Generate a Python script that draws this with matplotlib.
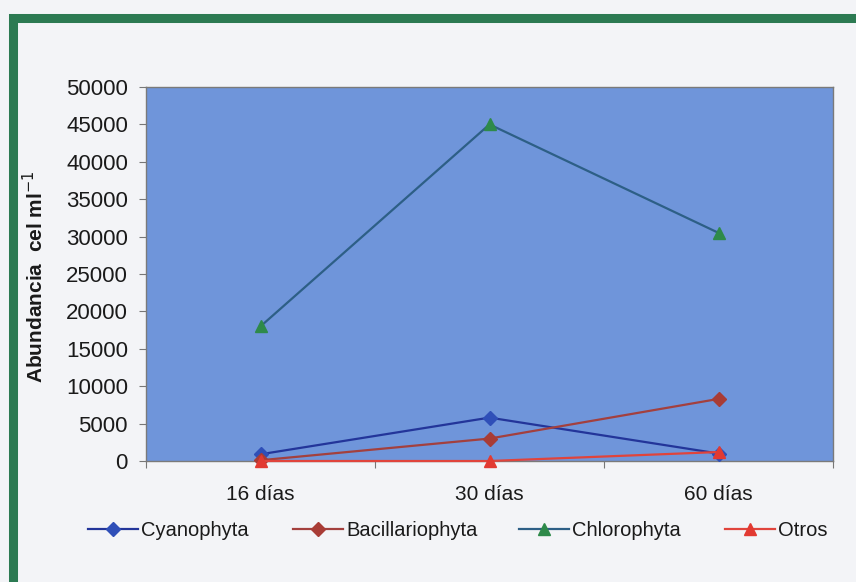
import matplotlib
matplotlib.use("Agg")
import matplotlib.pyplot as plt
from matplotlib.patches import Rectangle

plt.rcParams['font.family'] = ['Liberation Sans', 'DejaVu Sans']

dias = ['16 días', '30 días', '60 días']
cyanophyta = [900, 5800, 1000]
bacillariophyta = [100, 3000, 8300]
chlorophyta = [18000, 45000, 30500]
otros = [0, 0, 1200]

y_ticks = list(range(0, 50001, 5000))

fig = plt.figure(figsize=(8.56, 5.82), dpi=100, facecolor='#f3f4f7')
ax = fig.add_axes([146 / 856, 1 - 461 / 582, 687 / 856, 374 / 582])
ax.set_facecolor('#6f95da')

x = range(len(dias))
lines = []
lines += ax.plot(x, cyanophyta, color='#23359a', lw=1.6, marker='D', ms=7,
                 mfc='#2f4fb8', mec='#2f4fb8', label='Cyanophyta', clip_on=False, zorder=3)
lines += ax.plot(x, bacillariophyta, color='#a3403e', lw=1.6, marker='D', ms=7,
                 mfc='#a83c36', mec='#a83c36', label='Bacillariophyta', clip_on=False, zorder=3)
lines += ax.plot(x, chlorophyta, color='#2d5f86', lw=1.6, marker='^', ms=9,
                 mfc='#2e8a4a', mec='#2e8a4a', label='Chlorophyta', clip_on=False, zorder=3)
lines += ax.plot(x, otros, color='#e0443c', lw=1.6, marker='^', ms=9,
                 mfc='#e23a32', mec='#e23a32', label='Otros', clip_on=False, zorder=4)

ax.set_xlim(-0.5, 2.5)
ax.set_ylim(0, 50000)
ax.set_yticks(y_ticks)
ax.set_yticklabels([str(v) for v in y_ticks])
ax.set_xticks([-0.5, 0.5, 1.5, 2.5])
ax.set_xticklabels([])
ax.set_xticks(list(x), minor=True)
ax.set_xticklabels(dias, minor=True)
ax.tick_params(axis='x', which='major', direction='out', length=5, color='#777777')
ax.tick_params(axis='x', which='minor', length=0, pad=17, labelsize=15, labelcolor='#1a1a1a')
ax.tick_params(axis='y', direction='out', length=5, color='#777777', pad=8,
               labelsize=16, labelcolor='#1a1a1a')
for s in ax.spines.values():
    s.set_color('#7a7a7a')
    s.set_linewidth(1.0)

fig.text(35 / 856, 1 - 277 / 582, r'Abundancia  cel ml$^{-1}$', rotation=90,
         ha='center', va='center', fontsize=15, color='#1a1a1a', fontweight='bold')

# one legend per series so each entry sits at its own spot along the bottom
legend_x = [88, 293, 519, 725]
for ln, lx in zip(lines, legend_x):
    lg = fig.legend(handles=[ln], loc='center left',
                    bbox_to_anchor=(lx / 856, 1 - 531 / 582), frameon=False,
                    fontsize=14.5, handlelength=2.5, handletextpad=0.15,
                    borderpad=0, borderaxespad=0, labelcolor='#1a1a1a')

# green frame around the whole chart
fig.patches.append(Rectangle((12.5 / 856, -0.004), 1.2, (582 - 17.5) / 582 + 0.004,
                             transform=fig.transFigure, fill=False,
                             edgecolor='#2c7a52', linewidth=6.5, zorder=0))

fig.savefig('out.png', dpi=100, facecolor=fig.get_facecolor())
